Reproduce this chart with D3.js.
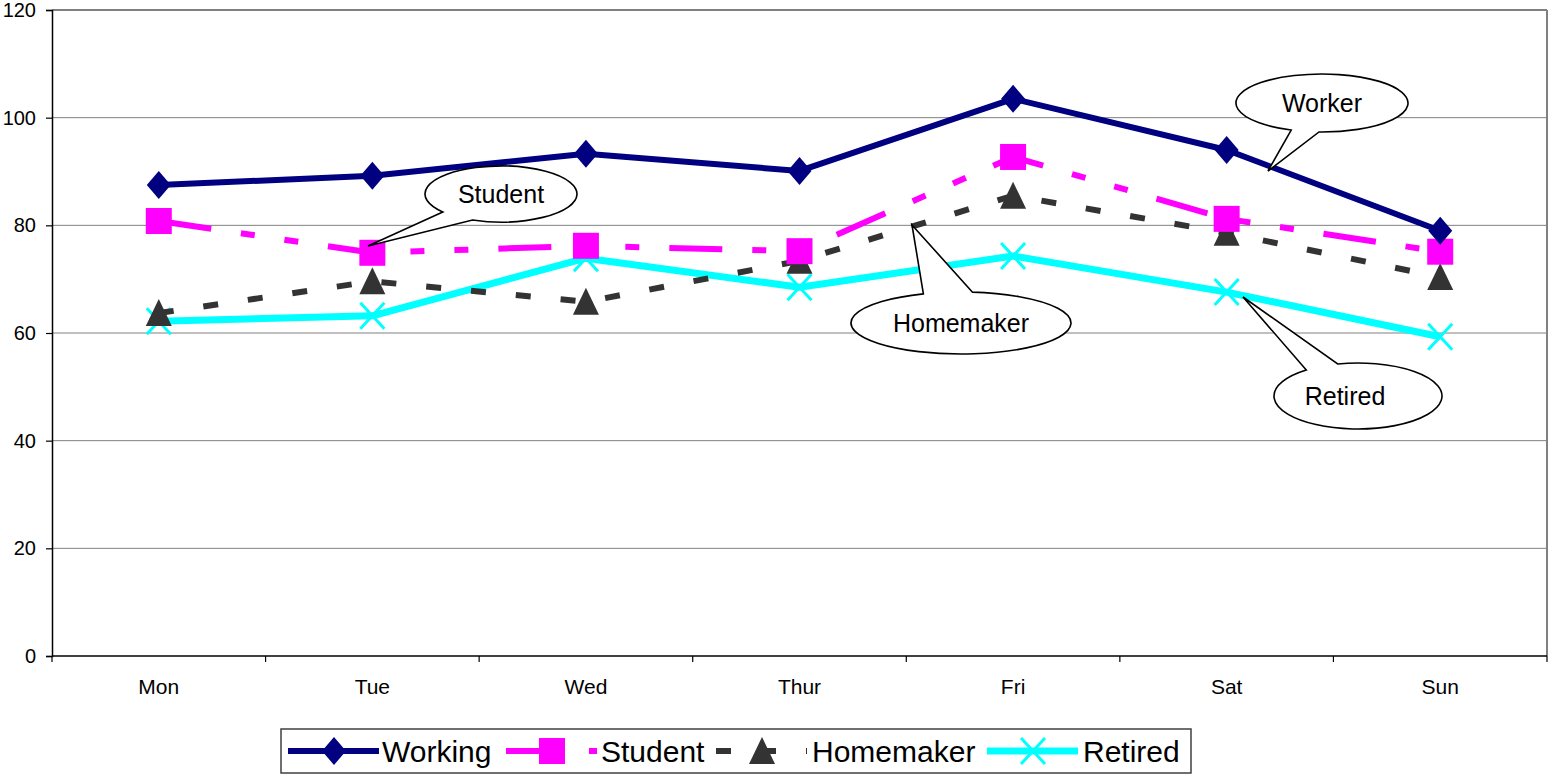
<!DOCTYPE html>
<html><head><meta charset="utf-8">
<script src="https://cdn.jsdelivr.net/npm/d3@7/dist/d3.min.js"></script>
<style>body{margin:0;background:#fff}svg{display:block;font-family:"Liberation Sans",Arial,sans-serif}</style>
</head><body>
<svg id="c" width="1548" height="775"></svg>
<script>
const categories = ["Mon","Tue","Wed","Thur","Fri","Sat","Sun"];
const working   = [87.5, 89.2, 93.3, 90.1, 103.5, 94.0, 79.0];
const student   = [80.8, 74.9, 76.2, 75.2, 92.7, 81.2, 75.1];
const homemaker = [63.7, 69.6, 65.8, 73.4, 85.5, 78.6, 70.4];
const retired   = [62.2, 63.2, 73.9, 68.5, 74.3, 67.6, 59.3];
const yTicks = [0,20,40,60,80,100,120];
const seriesNames = ["Working","Student","Homemaker","Retired"];

const svg = d3.select("#c");
const L=52, R=1547, T=10, B=656;
const x = d3.scaleBand().domain(categories).range([L,R]).paddingInner(0).paddingOuter(0);
const y = d3.scaleLinear().domain([0,120]).range([B,T]);
const cx = c => x(c) + x.bandwidth()/2;

// gridlines
svg.append("g").selectAll("line").data(yTicks.filter(v=>v>0 && v<120)).join("line")
  .attr("x1",L).attr("x2",R).attr("y1",d=>y(d)).attr("y2",d=>y(d))
  .attr("stroke","#808080").attr("stroke-width",1);
// plot border top/right
svg.append("line").attr("x1",L).attr("x2",R).attr("y1",y(120)).attr("y2",y(120)).attr("stroke","#808080").attr("stroke-width",2);
svg.append("line").attr("x1",R).attr("x2",R).attr("y1",y(120)).attr("y2",B).attr("stroke","#808080").attr("stroke-width",2);

// y axis
const yAxis = d3.axisLeft(y).tickValues(yTicks).tickSize(6).tickPadding(10).tickFormat(d3.format("d"));
const gy = svg.append("g").attr("transform",`translate(${L},0)`).call(yAxis);
gy.select(".domain").attr("stroke","#000").attr("stroke-width",1.5);
gy.selectAll(".tick line").attr("stroke","#000").attr("stroke-width",1.2);
gy.selectAll("text").attr("font-size",20).attr("fill","#000").attr("font-family","Liberation Sans, Arial");

// x axis
const gx = svg.append("g").attr("transform",`translate(0,${B})`);
gx.append("line").attr("x1",L).attr("x2",R).attr("y1",0).attr("y2",0).attr("stroke","#000").attr("stroke-width",1.5);
const bounds = categories.map(c=>x(c)).concat([R]);
gx.selectAll("line.t").data(bounds).join("line").attr("class","t")
  .attr("x1",d=>d).attr("x2",d=>d).attr("y1",0).attr("y2",6).attr("stroke","#000").attr("stroke-width",1.2);
gx.selectAll("text").data(categories).join("text")
  .attr("x",d=>cx(d)).attr("y",38).attr("text-anchor","middle").attr("font-size",21).text(d=>d);

// marker shapes
const shapes = {
  diamond: "M0,-14L12,0L0,14L-12,0Z",
  square: "M-13,-13H13V13H-13Z",
  triangle: "M0,-14L13,13H-13Z",
  cross: "M-12,-13L12,13M-12,13L12,-13"
};
const series = [
  {name:"Working", data:working, color:"#000080", w:6, dash:null, shape:"diamond"},
  {name:"Student", data:student, color:"#FF00FF", w:6, dash:"53,30,14,30,14,30", shape:"square"},
  {name:"Homemaker", data:homemaker, color:"#333333", w:6, dash:"15,30", shape:"triangle"},
  {name:"Retired", data:retired, color:"#00FFFF", w:7, dash:null, shape:"cross"}
];
const line = d3.line().x((d,i)=>cx(categories[i])).y(d=>y(d));

function drawMarker(g, s, px, py){
  const p = g.append("path").attr("d",shapes[s.shape]).attr("transform",`translate(${px},${py})`);
  if(s.shape==="cross") p.attr("fill","none").attr("stroke",s.color).attr("stroke-width",3);
  else p.attr("fill",s.color).attr("stroke","none");
}

[...series].reverse().forEach(s=>{
  const g = svg.append("g");
  g.append("path").datum(s.data).attr("d",line).attr("fill","none")
    .attr("stroke",s.color).attr("stroke-width",s.w).attr("stroke-linejoin","round")
    .attr("stroke-dasharray",s.dash);
  s.data.forEach((v,i)=>drawMarker(g,s,cx(categories[i]),y(v)));
});

// callouts
const callouts = [
  {text:"Student", cx:501, cy:194, rx:76, ry:28, tip:[368,246], a1:140, a2:112, tx:501},
  {text:"Worker", cx:1322, cy:103, rx:86, ry:29, tip:[1268,171], a1:111, a2:92, tx:1322},
  {text:"Homemaker", cx:961, cy:323, rx:110, ry:31, tip:[912,225], a1:-110, a2:-84, tx:961},
  {text:"Retired", cx:1358, cy:396, rx:84, ry:33, tip:[1243,297], a1:-128, a2:-104, tx:1345}
];
callouts.forEach(c=>{
  const p = a => [c.cx + c.rx*Math.cos(a*Math.PI/180), c.cy + c.ry*Math.sin(a*Math.PI/180)];
  const [x1,y1]=p(c.a1), [x2,y2]=p(c.a2);
  const sweep = (c.a1 > c.a2) ? 0 : 1;
  const d = `M${x1},${y1}L${c.tip[0]},${c.tip[1]}L${x2},${y2}A${c.rx},${c.ry} 0 1 ${sweep} ${x1},${y1}Z`;
  svg.append("path").attr("d",d).attr("fill","#fff").attr("stroke","#000").attr("stroke-width",1.6);
  svg.append("text").attr("x",c.tx).attr("y",c.cy+9).attr("text-anchor","middle").attr("font-size",25).text(c.text);
});

// legend
const lg = svg.append("g");
lg.append("rect").attr("x",281).attr("y",729).attr("width",910).attr("height",44)
  .attr("fill","#fff").attr("stroke","#404040").attr("stroke-width",1.5);
const legPos = [{x0:288, tx:382},{x0:506, tx:601},{x0:716, tx:812},{x0:987, tx:1083}];
series.forEach((s,i)=>{
  const lp = legPos[i], ly = 751;
  lg.append("line").attr("x1",lp.x0).attr("x2",lp.x0+91).attr("y1",ly).attr("y2",ly)
    .attr("stroke",s.color).attr("stroke-width",s.w).attr("stroke-dasharray",s.dash);
  drawMarker(lg, s, lp.x0+46, ly);
  lg.append("text").attr("x",lp.tx).attr("y",ly+11).attr("font-size",30).text(s.name);
});
</script>
</body></html>
